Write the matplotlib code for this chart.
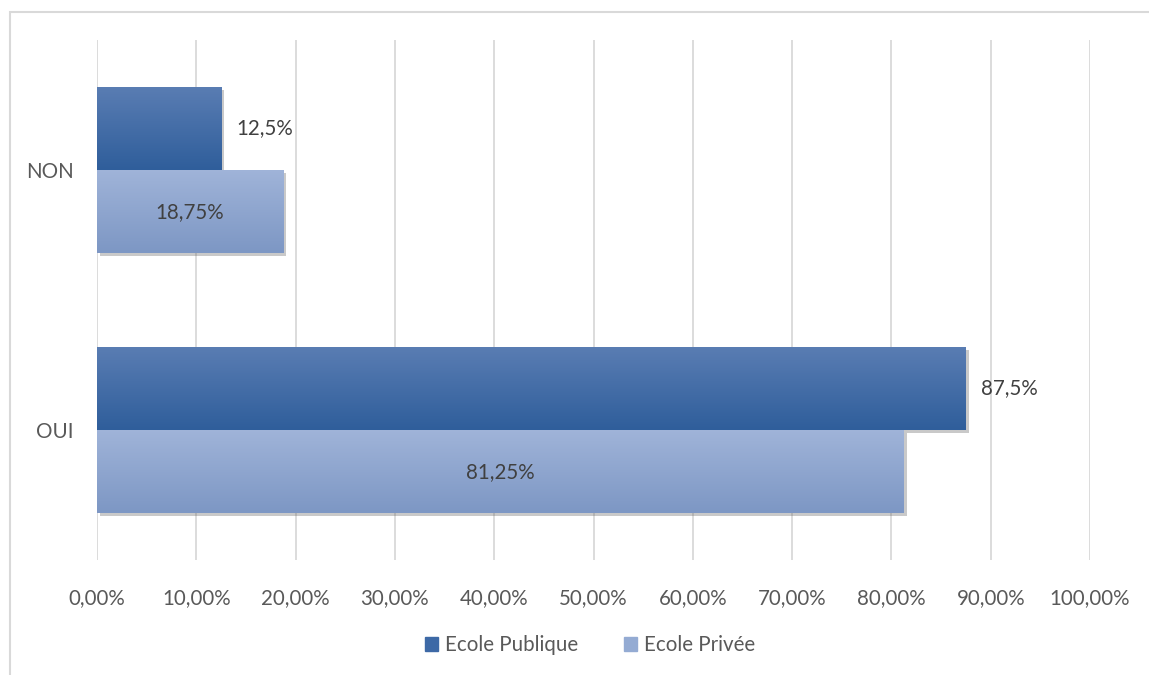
import numpy as np
import matplotlib.pyplot as plt
from matplotlib.patches import Rectangle
import matplotlib.patheffects as pe

categories = ["OUI", "NON"]
publique = [87.5, 12.5]
privee = [81.25, 18.75]
pub_labels = ["87,5%", "12,5%"]
priv_labels = ["81,25%", "18,75%"]
xticks = [0, 10, 20, 30, 40, 50, 60, 70, 80, 90, 100]
xtick_labels = ["%d,00%%" % t for t in xticks]

plt.rcParams['font.family'] = ['Lato', 'DejaVu Sans']
txt_color = '#595959'
fs = 14.8

fig = plt.figure(figsize=(11.49, 6.75), dpi=100)
ax = fig.add_axes([97 / 1149, 1 - 560 / 675, (1090 - 97) / 1149, 520 / 675])

# chart frame (only top and left visible)
fig.patches.append(Rectangle((10 / 1149, -0.1), 1.2, 1 - 12 / 675 + 0.1,
                             transform=fig.transFigure, fill=False,
                             edgecolor='#d9d9d9', linewidth=1.5, zorder=0))

y = np.arange(len(categories))
h = 0.32
shadow = [pe.SimplePatchShadow(offset=(2, -2), shadow_rgbFace='#666666', alpha=0.35), pe.Normal()]

def gradient_bars(bars, top, bottom):
    grad = np.linspace(0, 1, 100).reshape(-1, 1)
    c1 = np.array(plt.matplotlib.colors.to_rgb(top))
    c2 = np.array(plt.matplotlib.colors.to_rgb(bottom))
    img = c1[None, None, :] * (1 - grad[:, :, None]) + c2[None, None, :] * grad[:, :, None]
    for b in bars:
        b.set_path_effects(shadow)
        x0, y0 = b.get_x(), b.get_y()
        w, hh = b.get_width(), b.get_height()
        im = ax.imshow(img, extent=(x0, x0 + w, y0, y0 + hh), origin='upper',
                       aspect='auto', zorder=3)
        im.set_clip_path(b)

b_pub = ax.barh(y + h / 2, publique, height=h, color='#4470aa', zorder=2, linewidth=0)
b_priv = ax.barh(y - h / 2, privee, height=h, color='#8fa8d2', zorder=2, linewidth=0)
gradient_bars(b_pub, '#5a7db3', '#2f5e9b')
gradient_bars(b_priv, '#a0b4d9', '#7d97c4')

for i in range(len(categories)):
    ax.text(publique[i] + 1.5, y[i] + h / 2, pub_labels[i], va='center', ha='left',
            fontsize=fs, color='#404040', zorder=5)
    ax.text(privee[i] / 2, y[i] - h / 2, priv_labels[i], va='center', ha='center',
            fontsize=fs, color='#404040', zorder=5)

ax.set_xlim(0, 100)
ax.set_ylim(-0.5, 1.5)
ax.set_xticks(xticks)
ax.set_xticklabels(xtick_labels, fontsize=fs, color=txt_color)
ax.set_yticks(y)
ax.set_yticklabels(categories, fontsize=fs, color=txt_color)
ax.tick_params(axis='x', length=0, pad=20)
ax.tick_params(axis='y', length=0, pad=17)
ax.xaxis.grid(True, color='#d9d9d9', linewidth=1.3, zorder=0)
ax.set_axisbelow(True)
for s in ax.spines.values():
    s.set_visible(False)

handles = [Rectangle((0, 0), 1, 1, color='#3d69a6'), Rectangle((0, 0), 1, 1, color='#94abd3')]
leg = fig.legend(handles, ["Ecole Publique", "Ecole Privée"], loc='center',
                 bbox_to_anchor=(590 / 1149, 1 - 645 / 675), ncol=2, frameon=False,
                 fontsize=fs, handlelength=0.65, handleheight=0.65,
                 handletextpad=0.35, columnspacing=2.2)
for t in leg.get_texts():
    t.set_color(txt_color)

fig.savefig('out.png', dpi=100)
